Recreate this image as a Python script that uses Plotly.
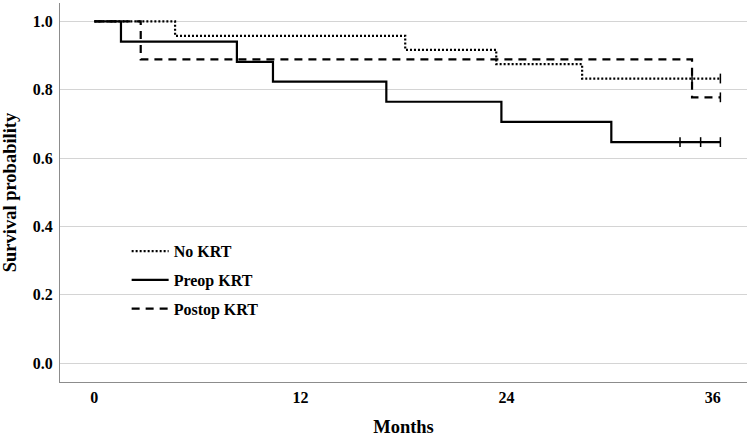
import plotly.graph_objects as go

# Kaplan-Meier step data (months, survival probability)
no_krt_t = [0, 4.7, 18.1, 23.4, 28.4, 36.45]
no_krt_s = [1.0, 0.958, 0.917, 0.875, 0.833, 0.833]
no_krt_cens = [34.8, 36.45]

preop_t = [0, 1.55, 8.3, 10.4, 17.0, 23.7, 30.1, 36.45]
preop_s = [1.0, 0.941, 0.882, 0.824, 0.765, 0.706, 0.647, 0.647]
preop_cens = [34.1, 35.3, 36.45]

postop_t = [0, 2.7, 34.8, 36.45]
postop_s = [1.0, 0.889, 0.778, 0.778]
postop_cens = [36.45]

names = ["No KRT", "Preop KRT", "Postop KRT"]
x_ticks = [0, 12, 24, 36]
y_ticks = [0.0, 0.2, 0.4, 0.6, 0.8, 1.0]

FONT = "Liberation Serif"

def surv_at(t_list, s_list, t):
    val = s_list[0]
    for ti, si in zip(t_list, s_list):
        if ti <= t:
            val = si
    return val

fig = go.Figure()
groups = [
    (no_krt_t, no_krt_s, no_krt_cens, "2px,2px"),
    (preop_t, preop_s, preop_cens, "solid"),
    (postop_t, postop_s, postop_cens, "8px,6px"),
]
for (t, s, c, dash), name in zip(groups, names):
    fig.add_trace(go.Scatter(
        x=t, y=s, mode="lines", line_shape="hv", name=name, legendgroup=name,
        line=dict(color="black", width=2.2, dash=dash),
    ))
for (t, s, c, dash), name in zip(groups, names):
    fig.add_trace(go.Scatter(
        x=c, y=[surv_at(t, s, ci) for ci in c], mode="markers",
        showlegend=False, hoverinfo="skip", legendgroup=name,
        marker=dict(symbol="line-ns", size=7, color="black",
                    line=dict(color="black", width=1.5)),
    ))

fig.update_layout(
    width=750, height=437,
    margin=dict(l=60, r=3, t=3, b=55),
    plot_bgcolor="white", paper_bgcolor="white",
    font=dict(family=FONT, size=16, color="black"),
    legend=dict(
        x=0.097, y=0.39, xanchor="left", yanchor="top",
        bgcolor="rgba(0,0,0,0)", font=dict(family=FONT, size=16, color="black", weight="bold"),
        itemwidth=37, tracegroupgap=5,
    ),
)
fig.update_xaxes(
    range=[-2, 38], tickvals=x_ticks, ticktext=[str(v) for v in x_ticks],
    showgrid=False, zeroline=False, showline=True, linecolor="#8c8c8c", linewidth=1,
    ticks="", ticklabelstandoff=1, automargin=False,
    tickfont=dict(family=FONT, size=16, weight="bold"),
    title=dict(text="Months", font=dict(family=FONT, size=18.5, weight="bold"), standoff=16),
)
fig.update_yaxes(
    range=[-0.055, 1.054], tickvals=y_ticks, ticktext=[f"{v:.1f}" for v in y_ticks],
    showgrid=True, gridcolor="#d4d4d4", gridwidth=1, zeroline=False,
    showline=True, linecolor="#8c8c8c", linewidth=1, ticks="",
    ticklabelstandoff=3, automargin=False,
    tickfont=dict(family=FONT, size=16, weight="bold"),
    title=dict(text="Survival probability", font=dict(family=FONT, size=18.5, weight="bold"), standoff=12),
)

fig.write_html(
    "out.html",
    config={"displayModeBar": False},
    post_script="document.body.style.margin='0';document.body.style.overflow='hidden';",
)
